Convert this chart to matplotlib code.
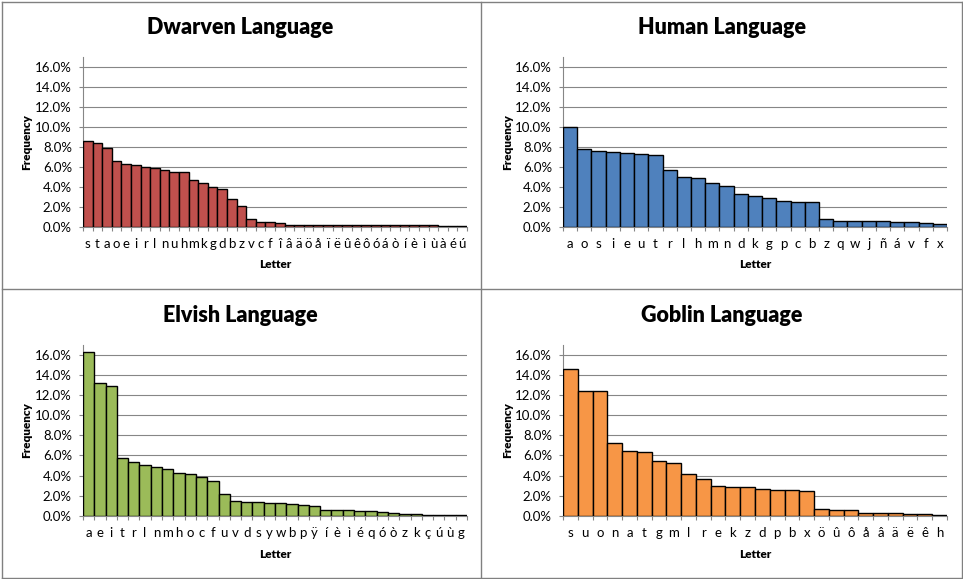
import matplotlib
matplotlib.use("Agg")
import matplotlib.pyplot as plt
from matplotlib.lines import Line2D
from matplotlib.ticker import FixedLocator, FuncFormatter

plt.rcParams['font.family'] = ['Lato', 'DejaVu Sans']

dwarven_letters = ["s","t","a","o","e","i","r","l","n","u","h","m","k","g","d","b","z","v","c","f",
                   "î","â","ä","ö","å","ï","ë","û","ê","ô","ó","á","ò","í","è","ì","ù","à","é","ú"]
dwarven_freq = [8.6,8.4,7.9,6.6,6.33,6.23,6.0,5.9,5.7,5.5,5.5,4.7,4.4,4.0,3.8,2.8,2.1,0.8,0.5,0.5,
                0.4,0.27,0.27,0.27,0.27,0.27,0.27,0.27,0.27,0.27,0.2,0.2,0.2,0.2,0.2,0.2,0.2,0.1,0.1,0.1]

human_letters = ["a","o","s","i","e","u","t","r","l","h","m","n","d","k","g","p","c","b","z","q",
                 "w","j","ñ","á","v","f","x"]
human_freq = [10.0,7.8,7.6,7.5,7.4,7.3,7.2,5.7,5.0,4.9,4.4,4.1,3.3,3.1,2.9,2.6,2.5,2.5,0.8,0.6,
              0.6,0.6,0.6,0.5,0.5,0.4,0.3]

elvish_letters = ["a","e","i","t","r","l","n","m","h","o","c","f","u","v","d","s","y","w","b","p",
                  "ÿ","í","è","ì","é","q","ó","ò","z","k","ç","ú","ù","g"]
elvish_freq = [16.3,13.2,12.9,5.7,5.4,5.1,4.9,4.7,4.3,4.2,3.9,3.5,2.2,1.5,1.4,1.4,1.3,1.3,1.2,1.1,
               1.0,0.6,0.6,0.6,0.5,0.5,0.4,0.3,0.2,0.2,0.1,0.1,0.1,0.1]

goblin_letters = ["s","u","o","n","a","t","g","m","l","r","e","k","z","d","p","b","x","ö","û","ô",
                  "å","â","ä","ë","ê","h"]
goblin_freq = [14.6,12.4,12.4,7.2,6.4,6.3,5.5,5.3,4.2,3.7,3.0,2.9,2.9,2.7,2.6,2.6,2.5,0.7,0.6,0.6,
               0.3,0.3,0.3,0.2,0.2,0.1]

titles = ["Dwarven Language", "Human Language", "Elvish Language", "Goblin Language"]
colors = ["#C0504D", "#4F81BD", "#9BBB59", "#F79646"]
y_ticks = [0, 2, 4, 6, 8, 10, 12, 14, 16]

W, H = 963, 579
fig = plt.figure(figsize=(W / 100, H / 100), dpi=100)
fig.patch.set_facecolor("white")

gray = "#868686"
panels = [
    (dwarven_letters, dwarven_freq, 83, 57, 0, 0),
    (human_letters, human_freq, 563, 57, 481, 0),
    (elvish_letters, elvish_freq, 83, 345.3, 0, 289),
    (goblin_letters, goblin_freq, 563, 345.3, 481, 289),
]

for i, (letters, freq, x0, ytop, px, py) in enumerate(panels):
    axw, axh = 384, 170.3
    ax = fig.add_axes([x0 / W, 1 - (ytop + axh) / H, axw / W, axh / H])
    n = len(letters)
    xs = list(range(n))
    ax.bar(xs, freq, width=1.0, color=colors[i], edgecolor="black", linewidth=1.0, zorder=3)
    ax.set_xlim(-0.5, n - 0.5)
    ax.set_ylim(0, 17)
    ax.set_yticks(y_ticks)
    ax.yaxis.set_major_formatter(FuncFormatter(lambda v, p: f"{v:.1f}%"))
    ax.grid(axis="y", color=gray, linewidth=0.8, zorder=0)
    ax.set_axisbelow(True)
    # x ticks: marks at boundaries, labels at centers
    ax.xaxis.set_major_locator(FixedLocator([k - 0.5 for k in range(n + 1)]))
    ax.xaxis.set_major_formatter(FuncFormatter(lambda v, p: ""))
    ax.xaxis.set_minor_locator(FixedLocator(xs))
    ax.set_xticklabels(letters, minor=True)
    ax.tick_params(axis="x", which="major", length=3, color=gray, width=0.8, direction="out")
    ax.tick_params(axis="x", which="minor", length=0, pad=8, labelsize=9.5)
    ax.tick_params(axis="y", length=3, color=gray, width=0.8, pad=5, labelsize=9.5)
    for s in ("top", "right"):
        ax.spines[s].set_visible(False)
    for s in ("left", "bottom"):
        ax.spines[s].set_color(gray)
        ax.spines[s].set_linewidth(0.8)
    # texts
    fig.text((px + 240.5) / W, 1 - (py + 27) / H, titles[i], ha="center", va="center",
             fontsize=15.5, fontweight="heavy")
    fig.text((px + 27) / W, 1 - (ytop + axh / 2) / H, "Frequency", ha="center", va="center",
             rotation=90, fontsize=8.5, fontweight="heavy")
    fig.text((x0 + axw / 2) / W, 1 - (py + 265) / H, "Letter", ha="center", va="center",
             fontsize=8.5, fontweight="heavy")

# panel dividers and outer border
def fline(x1, y1, x2, y2):
    fig.add_artist(Line2D([x1 / W, x2 / W], [1 - y1 / H, 1 - y2 / H], color="#808080", linewidth=1.0))

fline(1.5, 1.5, 961.5, 1.5)
fline(1.5, 577.5, 961.5, 577.5)
fline(1.5, 1.5, 1.5, 577.5)
fline(961.5, 1.5, 961.5, 577.5)
fline(481.3, 1.5, 481.3, 577.5)
fline(1.5, 289.3, 961.5, 289.3)

fig.savefig("out.png", dpi=100)
